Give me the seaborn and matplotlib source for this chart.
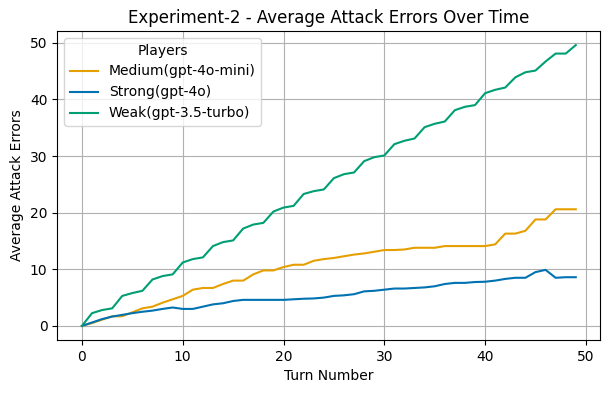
import numpy as np
import pandas as pd
import seaborn as sns
import matplotlib.pyplot as plt

## data
turns = list(range(50))
medium = [0, 0.5, 1.1, 1.7, 1.7, 2.4, 3.1, 3.4, 4.1, 4.7,
          5.3, 6.4, 6.7, 6.7, 7.4, 8.0, 8.0, 9.1, 9.8, 9.8,
          10.4, 10.8, 10.8, 11.5, 11.8, 12.0, 12.3, 12.6, 12.8, 13.1,
          13.4, 13.4, 13.5, 13.8, 13.8, 13.8, 14.1, 14.1, 14.1, 14.1,
          14.1, 14.4, 16.3, 16.3, 16.8, 18.8, 18.8, 20.6, 20.6, 20.6]
strong = [0, 0.6, 1.2, 1.65, 1.95, 2.25, 2.5, 2.7, 3.0, 3.25,
          3.0, 3.0, 3.4, 3.8, 4.0, 4.4, 4.6, 4.6, 4.6, 4.6,
          4.6, 4.7, 4.8, 4.85, 5.0, 5.3, 5.4, 5.6, 6.1, 6.2,
          6.4, 6.6, 6.6, 6.7, 6.8, 7.0, 7.4, 7.6, 7.6, 7.75,
          7.8, 8.0, 8.3, 8.5, 8.5, 9.5, 9.9, 8.5, 8.6, 8.6]
weak = [0, 2.25, 2.8, 3.1, 5.3, 5.8, 6.2, 8.2, 8.8, 9.1,
        11.2, 11.8, 12.1, 14.1, 14.8, 15.1, 17.2, 17.9, 18.2, 20.2,
        20.9, 21.2, 23.3, 23.8, 24.1, 26.1, 26.8, 27.1, 29.1, 29.8,
        30.1, 32.1, 32.7, 33.1, 35.1, 35.7, 36.1, 38.1, 38.7, 39.0,
        41.1, 41.7, 42.1, 43.9, 44.8, 45.1, 46.7, 48.1, 48.1, 49.6]
players = ['Medium(gpt-4o-mini)', 'Strong(gpt-4o)', 'Weak(gpt-3.5-turbo)']

df = pd.concat([
    pd.DataFrame({'Turn Number': turns, 'Average Attack Errors': vals, 'Players': name})
    for name, vals in zip(players, [medium, strong, weak])
])

## plot
# Okabe-Ito colours
pal = {players[0]: '#E69F00', players[1]: '#0072B2', players[2]: '#009E73'}

fig, ax = plt.subplots(figsize=(6.09, 3.93), dpi=100)
sns.lineplot(data=df, x='Turn Number', y='Average Attack Errors', hue='Players',
             palette=pal, ax=ax)
ax.grid(True)
ax.set_title('Experiment-2 - Average Attack Errors Over Time')
ax.set_xticks(np.arange(0, 60, 10))
ax.legend(title='Players', loc='upper left')

fig.subplots_adjust(left=0.094, right=0.986, top=0.921, bottom=0.135)
fig.savefig('out.png', dpi=100)
